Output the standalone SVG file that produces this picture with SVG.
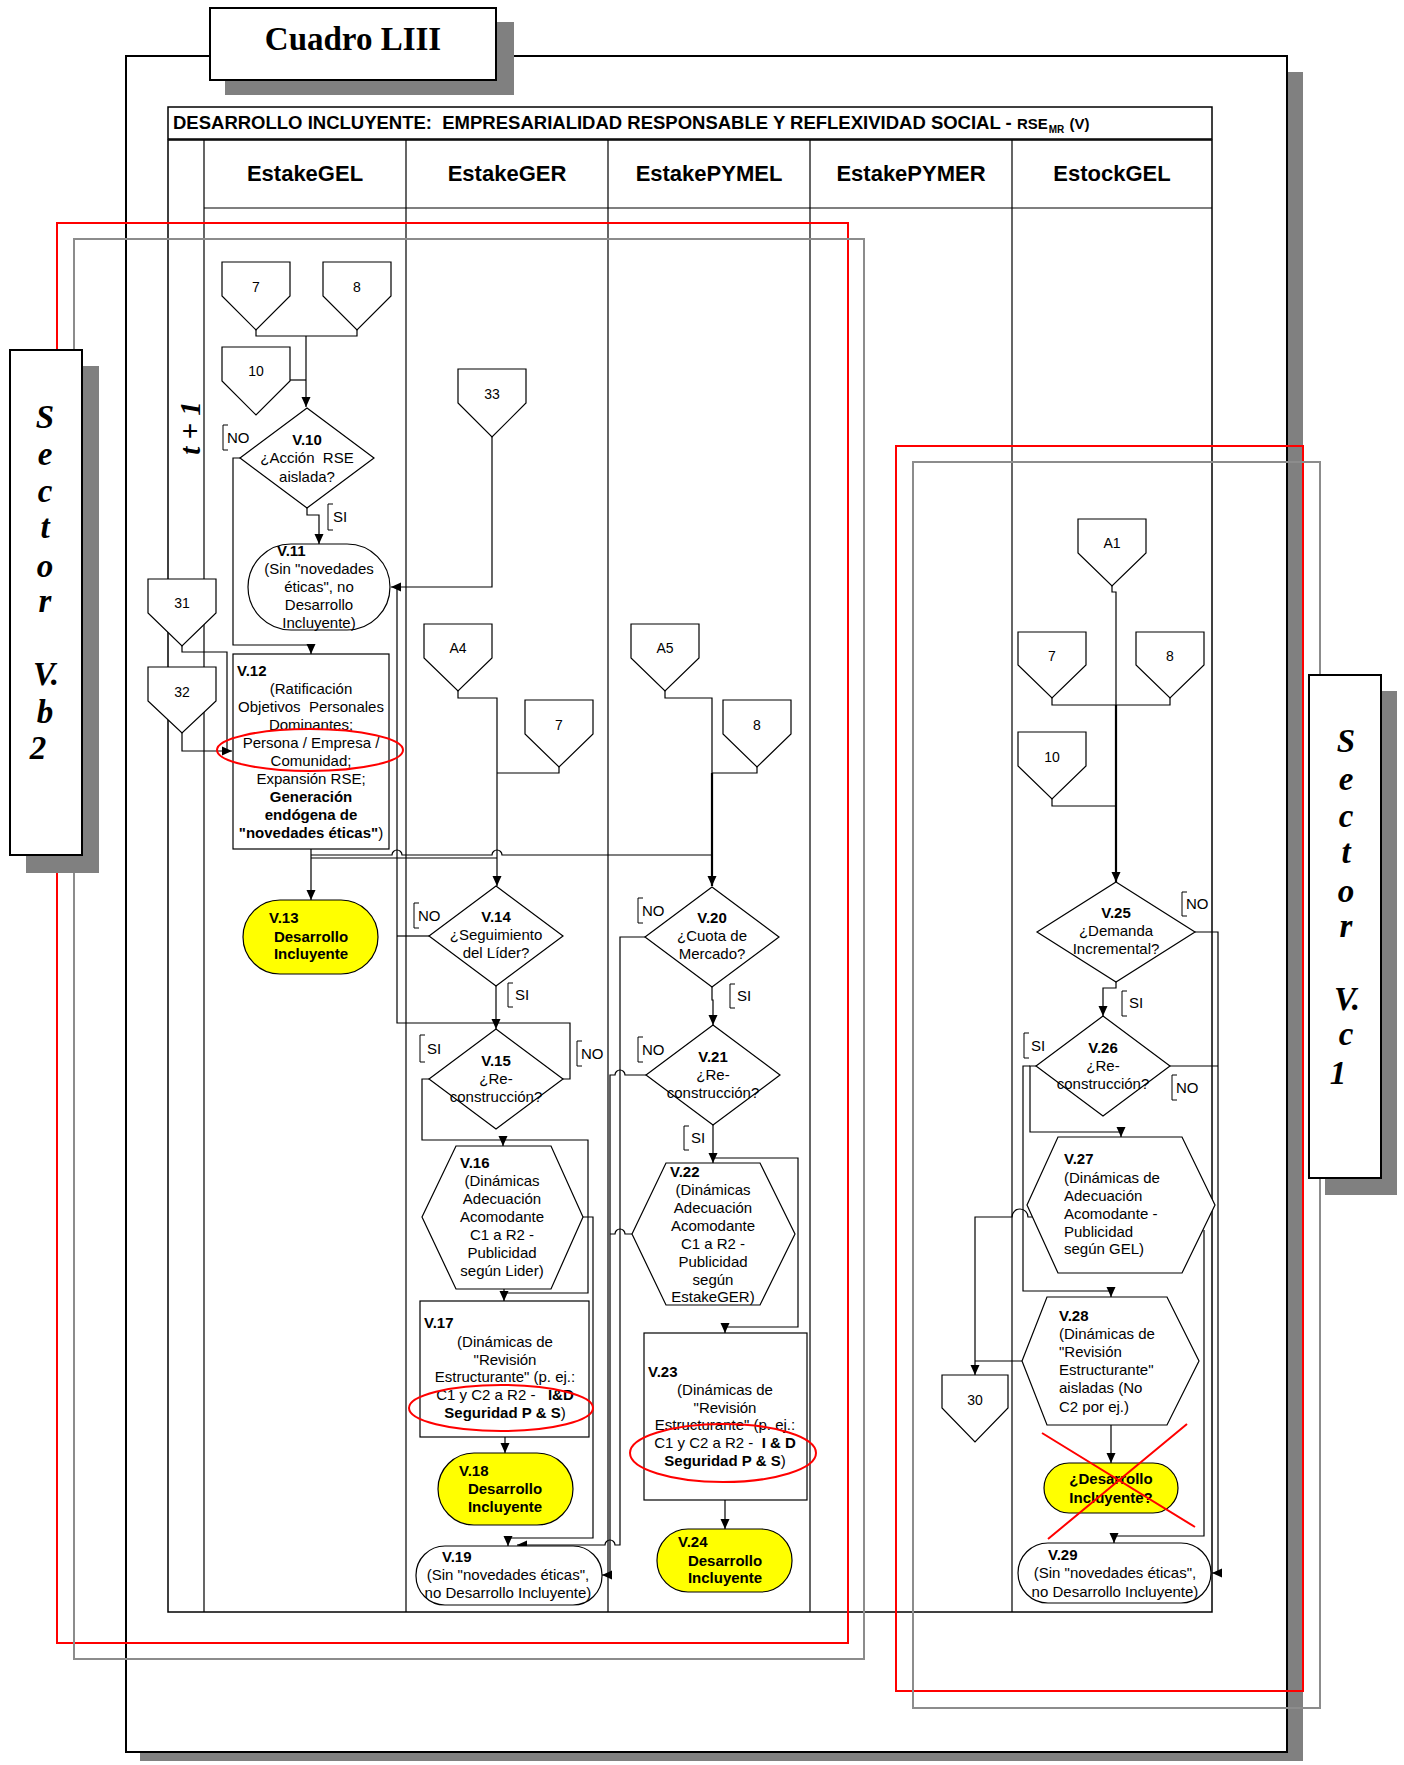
<svg xmlns="http://www.w3.org/2000/svg" width="1404" height="1765" viewBox="0 0 1404 1765">
<style>
.ln{fill:none;stroke:#000;stroke-width:1.2}
.th{fill:none;stroke:#000;stroke-width:2.2}
.nd{fill:#fff;stroke:#000;stroke-width:1.2}
.yl{fill:#ff0;stroke:#000;stroke-width:1.2}
.t{font-family:"Liberation Sans",Arial,sans-serif;font-size:15px;fill:#000}
.n{font-family:"Liberation Sans",Arial,sans-serif;font-size:14px;fill:#000;text-anchor:middle}
.b{font-weight:bold}
.m{text-anchor:middle}
.hd{font-family:"Liberation Sans",Arial,sans-serif;font-size:22px;font-weight:bold;text-anchor:middle}
.sec{font-family:"Liberation Serif","Times New Roman",serif;font-size:33px;font-weight:bold;font-style:italic;text-anchor:middle}
.red{fill:none;stroke:#f00;stroke-width:2}
.gry{fill:none;stroke:#8c8c8c;stroke-width:2}
.br{fill:none;stroke:#000;stroke-width:1}
</style>
<defs>
<marker id="ah" viewBox="0 0 10 10" refX="10" refY="5" markerWidth="10" markerHeight="10" markerUnits="userSpaceOnUse" orient="auto"><path d="M0,0.5 L10,5 L0,9.5 z" fill="#000"/></marker>
</defs>

<!-- page frame -->
<g id="frame">
<rect x="140" y="72" width="1163" height="1689" fill="#808080"/>
<rect x="126" y="56" width="1161" height="1696" fill="#fff" stroke="#000" stroke-width="2"/>
<rect x="225" y="22" width="289" height="73" fill="#808080"/>
<rect x="210" y="8" width="286" height="72" fill="#fff" stroke="#000" stroke-width="2"/>
<text x="353" y="50" font-family="'Liberation Serif','Times New Roman',serif" font-size="33" font-weight="bold" text-anchor="middle">Cuadro LIII</text>
</g>

<!-- table -->
<g id="table">
<rect x="168" y="107" width="1044" height="32" fill="#fff" stroke="#000" stroke-width="1.5"/>
<text x="173" y="129" font-family="'Liberation Sans',Arial,sans-serif" font-size="18.5" font-weight="bold" xml:space="preserve">DESARROLLO INCLUYENTE:  EMPRESARIALIDAD RESPONSABLE Y REFLEXIVIDAD SOCIAL - <tspan font-size="15">RSE</tspan><tspan font-size="10" dx="1" dy="4">MR</tspan><tspan dx="1" dy="-4" font-size="15"> (V)</tspan></text>
<rect x="168" y="140" width="1044" height="1472" fill="#fff" stroke="#000" stroke-width="1.5"/>
<path class="ln" d="M204,140 V1612 M406,140 V1612 M608,140 V1612 M810,140 V1612 M1012,140 V1612 M204,208 H1212"/>
<text class="hd" x="305" y="181">EstakeGEL</text>
<text class="hd" x="507" y="181">EstakeGER</text>
<text class="hd" x="709" y="181">EstakePYMEL</text>
<text class="hd" x="911" y="181">EstakePYMER</text>
<text class="hd" x="1112" y="181">EstockGEL</text>
<text transform="translate(200,428) rotate(-90)" font-family="'Liberation Serif','Times New Roman',serif" font-size="29" font-weight="bold" font-style="italic" text-anchor="middle">t + 1</text>
</g>

<!-- connectors -->
<g id="connectors">
<path class="ln" d="M256,330 V336 H357 V330"/>
<path class="ln" d="M306,336 V407" marker-end="url(#ah)"/>
<path class="ln" d="M289,380 H306"/>
<path class="ln" d="M240,458 H233 V645 H311 V654" marker-end="url(#ah)"/>
<path class="ln" d="M307,508 V515 H319 V544" marker-end="url(#ah)"/>
<path class="ln" d="M492,437 V587 H391" marker-end="url(#ah)"/>
<path class="ln" d="M182,646 V652 H227 V751"/>
<path class="ln" d="M182,733 V751 H232" marker-end="url(#ah)"/>
<path class="ln" d="M311,849 V900" marker-end="url(#ah)"/>
<path class="ln" d="M311,855 H392 a5,5 0 0 1 10,0 H492 a5,5 0 0 1 10,0 H712"/>
<path class="ln" d="M311,858 H497"/>
<path class="ln" d="M458,691 V698 H497 V886" marker-end="url(#ah)"/>
<path class="ln" d="M559,767 V773 H497"/>
<path class="ln" d="M665,691 V698 H712 V773"/>
<path class="th" d="M712,773 V886" marker-end="url(#ah)"/>
<path class="ln" d="M757,767 V773 H712"/>
<path class="ln" d="M429,936 H397"/>
<path class="ln" d="M563,1079 H570 V1023 H397 V587"/>
<path class="ln" d="M496,986 V1029" marker-end="url(#ah)"/>
<path class="ln" d="M429,1079 H422 V1140 H503 V1146" marker-end="url(#ah)"/>
<path class="ln" d="M503,1140 H588 V1293 H504"/>
<path class="ln" d="M504,1289 V1301" marker-end="url(#ah)"/>
<path class="ln" d="M583,1217 H593 V1538 H508 V1546" marker-end="url(#ah)"/>
<path class="ln" d="M505,1437 V1453" marker-end="url(#ah)"/>
<path class="ln" d="M645,937 H620 V1545 H615 a5,5 0 0 0 -10,0 H517" marker-end="url(#ah)"/>
<path class="ln" d="M646,1075 H625 a5,5 0 0 0 -10,0 H610 V1575 H602" marker-end="url(#ah)"/>
<path class="ln" d="M632,1234 H625 a5,5 0 0 0 -10,0 H610"/>
<path class="ln" d="M712,987 V1000 H713 V1025" marker-end="url(#ah)"/>
<path class="ln" d="M713,1125 V1163" marker-end="url(#ah)"/>
<path class="ln" d="M713,1158 H798 V1327 H725 V1333" marker-end="url(#ah)"/>
<path class="ln" d="M725,1500 V1529" marker-end="url(#ah)"/>
<path class="ln" d="M1112,586 V592 H1116 V705"/>
<path class="th" d="M1116,705 V882" marker-end="url(#ah)"/>
<path class="ln" d="M1052,698 V705 H1170 V698"/>
<path class="ln" d="M1052,799 V806 H1116"/>
<path class="ln" d="M1116,982 V988 H1103 V1016" marker-end="url(#ah)"/>
<path class="ln" d="M1195,932 H1218 V1573 H1212" marker-end="url(#ah)"/>
<path class="ln" d="M1170,1066 H1218"/>
<path class="ln" d="M1037,1066 H1030 V1132 H1121 V1137" marker-end="url(#ah)"/>
<path class="ln" d="M1030,1066 H1023 V1291 H1111 V1297" marker-end="url(#ah)"/>
<path class="ln" d="M1032,1217 H1028 a8,8 0 0 0 -16,0 H975 V1375" marker-end="url(#ah)"/>
<path class="ln" d="M1022,1361 H975"/>
<path class="ln" d="M1204,1230 V1536 H1114 V1543" marker-end="url(#ah)"/>
<path class="ln" d="M1111,1425 V1463" marker-end="url(#ah)"/>
</g>

<!-- branch labels -->
<g id="labels">
<path class="br" d="M228,425 h-5 v25 h5 M333,504 h-5 v26 h5 M419,903 h-5 v25 h5 M513,983 h-5 v24 h5 M425,1035 h-5 v27 h5 M582,1041 h-5 v25 h5 M643,898 h-5 v25 h5 M735,984 h-5 v24 h5 M643,1037 h-5 v25 h5 M689,1126 h-5 v24 h5 M1187,892 h-5 v24 h5 M1127,991 h-5 v25 h5 M1029,1033 h-5 v25 h5 M1177,1075 h-5 v25 h5"/>
<text class="t" x="227" y="443">NO</text>
<text class="t" x="333" y="522">SI</text>
<text class="t" x="418" y="921">NO</text>
<text class="t" x="515" y="1000">SI</text>
<text class="t" x="427" y="1054">SI</text>
<text class="t" x="581" y="1059">NO</text>
<text class="t" x="642" y="916">NO</text>
<text class="t" x="737" y="1001">SI</text>
<text class="t" x="642" y="1055">NO</text>
<text class="t" x="691" y="1143">SI</text>
<text class="t" x="1186" y="909">NO</text>
<text class="t" x="1129" y="1008">SI</text>
<text class="t" x="1031" y="1051">SI</text>
<text class="t" x="1176" y="1093">NO</text>
</g>

<!-- off-page connectors -->
<g id="c7a"><path class="nd" d="M222,262 h68 v34 l-34,34 l-34,-34 z"/><text class="n" x="256" y="292">7</text></g>
<g id="c8a"><path class="nd" d="M323,262 h68 v34 l-34,34 l-34,-34 z"/><text class="n" x="357" y="292">8</text></g>
<g id="c10a"><path class="nd" d="M222,347 h68 v34 l-34,34 l-34,-34 z"/><text class="n" x="256" y="376">10</text></g>
<g id="c33"><path class="nd" d="M458,369 h68 v34 l-34,34 l-34,-34 z"/><text class="n" x="492" y="399">33</text></g>
<g id="c31"><path class="nd" d="M148,579 h68 v34 l-34,33 l-34,-33 z"/><text class="n" x="182" y="608">31</text></g>
<g id="c32"><path class="nd" d="M148,667 h68 v34 l-34,32 l-34,-32 z"/><text class="n" x="182" y="697">32</text></g>
<g id="cA4"><path class="nd" d="M424,624 h68 v34 l-34,33 l-34,-33 z"/><text class="n" x="458" y="653">A4</text></g>
<g id="c7b"><path class="nd" d="M525,700 h68 v34 l-34,33 l-34,-33 z"/><text class="n" x="559" y="730">7</text></g>
<g id="cA5"><path class="nd" d="M631,624 h68 v34 l-34,33 l-34,-33 z"/><text class="n" x="665" y="653">A5</text></g>
<g id="c8b"><path class="nd" d="M723,700 h68 v34 l-34,33 l-34,-33 z"/><text class="n" x="757" y="730">8</text></g>
<g id="cA1"><path class="nd" d="M1078,519 h68 v34 l-34,33 l-34,-33 z"/><text class="n" x="1112" y="548">A1</text></g>
<g id="c7c"><path class="nd" d="M1018,632 h68 v33 l-34,33 l-34,-33 z"/><text class="n" x="1052" y="661">7</text></g>
<g id="c8c"><path class="nd" d="M1136,632 h68 v33 l-34,33 l-34,-33 z"/><text class="n" x="1170" y="661">8</text></g>
<g id="c10c"><path class="nd" d="M1018,732 h68 v34 l-34,33 l-34,-33 z"/><text class="n" x="1052" y="762">10</text></g>
<g id="c30"><path class="nd" d="M942,1375 h66 v33 l-33,34 l-33,-34 z"/><text class="n" x="975" y="1405">30</text></g>

<!-- decisions -->
<g id="V10"><path class="nd" d="M307,408 L374,458 L307,508 L240,458 z"/>
<text class="t m" x="307" y="445" xml:space="preserve"><tspan class="b">V.10</tspan><tspan x="307" y="463">¿Acción  RSE</tspan><tspan x="307" y="482">aislada?</tspan></text></g>
<g id="V14"><path class="nd" d="M496,886 L563,936 L496,986 L429,936 z"/>
<text class="t m" x="496" y="922"><tspan class="b">V.14</tspan><tspan x="496" y="940">¿Seguimiento</tspan><tspan x="496" y="958">del Líder?</tspan></text></g>
<g id="V15"><path class="nd" d="M496,1029 L563,1079 L496,1129 L429,1079 z"/>
<text class="t m" x="496" y="1066"><tspan class="b">V.15</tspan><tspan x="496" y="1084">¿Re-</tspan><tspan x="496" y="1102">construcción?</tspan></text></g>
<g id="V20"><path class="nd" d="M712,887 L779,937 L712,987 L645,937 z"/>
<text class="t m" x="712" y="923"><tspan class="b">V.20</tspan><tspan x="712" y="941">¿Cuota de</tspan><tspan x="712" y="959">Mercado?</tspan></text></g>
<g id="V21"><path class="nd" d="M713,1025 L780,1075 L713,1125 L646,1075 z"/>
<text class="t m" x="713" y="1062"><tspan class="b">V.21</tspan><tspan x="713" y="1080">¿Re-</tspan><tspan x="713" y="1098">construcción?</tspan></text></g>
<g id="V25"><path class="nd" d="M1116,882 L1195,932 L1116,982 L1037,932 z"/>
<text class="t m" x="1116" y="918"><tspan class="b">V.25</tspan><tspan x="1116" y="936">¿Demanda</tspan><tspan x="1116" y="954">Incremental?</tspan></text></g>
<g id="V26"><path class="nd" d="M1103,1016 L1170,1066 L1103,1116 L1036,1066 z"/>
<text class="t m" x="1103" y="1053"><tspan class="b">V.26</tspan><tspan x="1103" y="1071">¿Re-</tspan><tspan x="1103" y="1089">construcción?</tspan></text></g>

<!-- terminals -->
<g id="V11"><rect class="nd" x="248" y="544" width="142" height="86" rx="43"/>
<text class="t" x="277" y="556"><tspan class="b">V.11</tspan></text>
<text class="t m" x="319" y="574">(Sin "novedades<tspan x="319" y="592">éticas", no</tspan><tspan x="319" y="610">Desarrollo</tspan><tspan x="319" y="628">Incluyente)</tspan></text></g>
<g id="V13"><rect class="yl" x="243" y="900" width="135" height="74" rx="37"/>
<text class="t b" x="269" y="923">V.13</text>
<text class="t b m" x="311" y="942">Desarrollo<tspan x="311" y="959">Incluyente</tspan></text></g>
<g id="V18"><rect class="yl" x="438" y="1453" width="135" height="72" rx="36"/>
<text class="t b" x="459" y="1476">V.18</text>
<text class="t b m" x="505" y="1494">Desarrollo<tspan x="505" y="1512">Incluyente</tspan></text></g>
<g id="V24"><rect class="yl" x="657" y="1529" width="135" height="63" rx="31"/>
<text class="t b" x="678" y="1547">V.24</text>
<text class="t b m" x="725" y="1566">Desarrollo<tspan x="725" y="1583">Incluyente</tspan></text></g>
<g id="V19"><rect class="nd" x="416" y="1546" width="186" height="59" rx="29"/>
<text class="t b" x="442" y="1562">V.19</text>
<text class="t m" x="508" y="1580">(Sin "novedades éticas",<tspan x="508" y="1598">no Desarrollo Incluyente)</tspan></text></g>
<g id="V29"><rect class="nd" x="1018" y="1543" width="193" height="60" rx="30"/>
<text class="t b" x="1048" y="1560">V.29</text>
<text class="t m" x="1115" y="1578">(Sin "novedades éticas",<tspan x="1115" y="1597">no Desarrollo Incluyente)</tspan></text></g>
<g id="DI"><rect class="yl" x="1044" y="1463" width="134" height="50" rx="25"/>
<text class="t b m" x="1111" y="1484">¿Desarrollo<tspan x="1111" y="1503">Incluyente?</tspan></text></g>

<!-- processes -->
<g id="V12"><rect class="nd" x="233" y="654" width="156" height="195"/>
<text class="t b" x="237" y="676">V.12</text>
<text class="t m" x="311" y="694" xml:space="preserve">(Ratificación<tspan x="311" y="712">Objetivos  Personales</tspan><tspan x="311" y="730">Dominantes;</tspan><tspan x="311" y="748">Persona / Empresa /</tspan><tspan x="311" y="766">Comunidad;</tspan><tspan x="311" y="784">Expansión RSE;</tspan><tspan x="311" y="802" class="b">Generación</tspan><tspan x="311" y="820" class="b">endógena de</tspan><tspan x="311" y="838"><tspan class="b">"novedades éticas"</tspan>)</tspan></text></g>
<g id="V17"><rect class="nd" x="420" y="1301" width="169" height="136"/>
<text class="t b" x="424" y="1328">V.17</text>
<text class="t m" x="505" y="1347" xml:space="preserve">(Dinámicas de<tspan x="505" y="1365">"Revisión</tspan><tspan x="505" y="1382">Estructurante" (p. ej.:</tspan><tspan x="505" y="1400">C1 y C2 a R2 -   <tspan class="b">I&amp;D</tspan></tspan><tspan x="505" y="1418"><tspan class="b">Seguridad P &amp; S</tspan>)</tspan></text></g>
<g id="V23"><rect class="nd" x="644" y="1333" width="163" height="167"/>
<text class="t b" x="648" y="1377">V.23</text>
<text class="t m" x="725" y="1395" xml:space="preserve">(Dinámicas de<tspan x="725" y="1413">"Revisión</tspan><tspan x="725" y="1430">Estructurante" (p. ej.:</tspan><tspan x="725" y="1448">C1 y C2 a R2 -  <tspan class="b">I &amp; D</tspan></tspan><tspan x="725" y="1466"><tspan class="b">Seguridad P &amp; S</tspan>)</tspan></text></g>

<!-- hexagons -->
<g id="V16"><path class="nd" d="M456,1146 L551,1146 L583,1217 L551,1289 L456,1289 L422,1217 z"/>
<text class="t b" x="460" y="1168">V.16</text>
<text class="t m" x="502" y="1186">(Dinámicas<tspan x="502" y="1204">Adecuación</tspan><tspan x="502" y="1222">Acomodante</tspan><tspan x="502" y="1240">C1 a R2 -</tspan><tspan x="502" y="1258">Publicidad</tspan><tspan x="502" y="1276">según Lider)</tspan></text></g>
<g id="V22"><path class="nd" d="M666,1163 L760,1163 L795,1234 L760,1305 L666,1305 L632,1234 z"/>
<text class="t b" x="670" y="1177">V.22</text>
<text class="t m" x="713" y="1195">(Dinámicas<tspan x="713" y="1213">Adecuación</tspan><tspan x="713" y="1231">Acomodante</tspan><tspan x="713" y="1249">C1 a R2 -</tspan><tspan x="713" y="1267">Publicidad</tspan><tspan x="713" y="1285">según</tspan><tspan x="713" y="1302">EstakeGER)</tspan></text></g>
<g id="V27"><path class="nd" d="M1058,1137 L1182,1137 L1215,1205 L1182,1273 L1058,1273 L1027,1205 z"/>
<text class="t b" x="1064" y="1164">V.27</text>
<text class="t" x="1064" y="1183">(Dinámicas de<tspan x="1064" y="1201">Adecuación</tspan><tspan x="1064" y="1219">Acomodante -</tspan><tspan x="1064" y="1237">Publicidad</tspan><tspan x="1064" y="1254">según GEL)</tspan></text></g>
<g id="V28"><path class="nd" d="M1047,1297 L1167,1297 L1199,1361 L1167,1425 L1047,1425 L1022,1361 z"/>
<text class="t b" x="1059" y="1321">V.28</text>
<text class="t" x="1059" y="1339">(Dinámicas de<tspan x="1059" y="1357">"Revisión</tspan><tspan x="1059" y="1375">Estructurante"</tspan><tspan x="1059" y="1393">aisladas (No</tspan><tspan x="1059" y="1412">C2 por ej.)</tspan></text></g>

<!-- highlights -->
<g id="highlights">
<ellipse class="red" cx="310" cy="750" rx="93" ry="21"/>
<ellipse class="red" cx="501" cy="1408" rx="92" ry="23"/>
<ellipse class="red" cx="723" cy="1453" rx="93" ry="29"/>
<path class="red" d="M1042,1433 L1195,1527 M1187,1424 L1048,1539"/>
<rect class="red" x="57" y="223" width="791" height="1420"/>
<rect class="gry" x="74" y="239" width="790" height="1420"/>
<rect class="red" x="896" y="446" width="407" height="1245"/>
<rect class="gry" x="913" y="462" width="407" height="1246"/>
</g>

<!-- sector boxes -->
<g id="sectorVb2">
<rect x="26" y="366" width="73" height="507" fill="#808080"/>
<rect x="10" y="350" width="72" height="505" fill="#fff" stroke="#000" stroke-width="2"/>
<text class="sec" x="45" y="428">S</text>
<text class="sec" x="45" y="465">e</text>
<text class="sec" x="45" y="502">c</text>
<text class="sec" x="45" y="538">t</text>
<text class="sec" x="45" y="577">o</text>
<text class="sec" x="45" y="612">r</text>
<text class="sec" x="46" y="685">V.</text>
<text class="sec" x="45" y="723">b</text>
<text class="sec" x="38" y="759">2</text>
</g>
<g id="sectorVc1">
<rect x="1325" y="691" width="72" height="504" fill="#808080"/>
<rect x="1309" y="675" width="72" height="503" fill="#fff" stroke="#000" stroke-width="2"/>
<text class="sec" x="1346" y="752">S</text>
<text class="sec" x="1346" y="790">e</text>
<text class="sec" x="1346" y="827">c</text>
<text class="sec" x="1346" y="863">t</text>
<text class="sec" x="1346" y="902">o</text>
<text class="sec" x="1346" y="937">r</text>
<text class="sec" x="1347" y="1010">V.</text>
<text class="sec" x="1346" y="1045">c</text>
<text class="sec" x="1338" y="1084">1</text>
</g>
</svg>
